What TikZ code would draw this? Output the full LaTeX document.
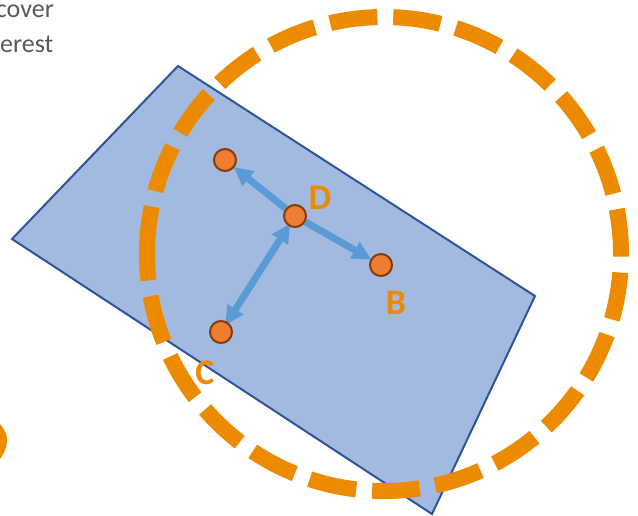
\documentclass[tikz,border=0pt]{standalone}
\usepackage{fontspec}
\setmainfont{Carlito}[BoldFont={Carlito Bold}]
\usetikzlibrary{arrows.meta}
\definecolor{dashorange}{RGB}{237,139,0}
\definecolor{dotfill}{RGB}{237,125,49}
\definecolor{dotline}{RGB}{132,60,12}
\definecolor{planefill}{RGB}{162,185,224}
\definecolor{planeline}{RGB}{47,85,151}
\definecolor{arrowblue}{RGB}{91,155,213}
\definecolor{textgray}{RGB}{89,89,89}
\pgfdeclarelayer{back}
\pgfdeclarelayer{mid}
\pgfsetlayers{back,mid,main}
\tikzset{
  pt/.style={circle,fill=dotfill,draw=dotline,line width=2pt,minimum size=22pt,inner sep=0pt},
  lbl/.style={text=dashorange,font=\fontsize{36}{36}\selectfont\bfseries,inner sep=0pt},
  vec/.style={draw=arrowblue,line width=7pt,-{Triangle[length=19pt,width=18pt]}},
  dvec/.style={draw=arrowblue,line width=7pt,{Triangle[length=19pt,width=18pt]}-{Triangle[length=19pt,width=18pt]}},
  sidetext/.style={text=textgray,font=\fontsize{26}{26}\selectfont,inner sep=0pt}
}
\begin{document}
\begin{tikzpicture}[x=1pt,y=-1pt]
\useasboundingbox (0,0) rectangle (638,515);
\clip (0,0) rectangle (638,515);
% side text
\node[sidetext,anchor=base east] (t1) at (54,17) {cover};
\node[sidetext,anchor=base west] (t2) at (0,52) {erest};
\begin{pgfonlayer}{back}
% orange blob at left
\fill[dashorange] (0,424) .. controls (5,430) and (8,436) .. (7,442) .. controls (6,450) and (3,455) .. (0,459) -- cycle;
% plane
\filldraw[fill=planefill,draw=planeline,line width=2pt,line join=miter] (178,66) -- (535,296) -- (432,514) -- (12,239) -- cycle;
% dashed circle, starting at its left point and running over the top
\coordinate (O) at (384,254);
\draw[dashorange,line width=16pt,dash pattern=on 47.7pt off 15.9pt,dash phase=0pt] (O) ++(180:237) arc[start angle=180,end angle=540,radius=237];
\end{pgfonlayer}
% points
\node[pt] (A) at (225,160) {};
\node[pt] (D) at (295,216) {};
\node[pt] (B) at (381,265) {};
\node[pt] (C) at (221,332) {};
% arrows
\begin{pgfonlayer}{mid}
\draw[vec,shorten >=-1pt] (D) -- (A);
\draw[vec,shorten >=-1pt] (D) -- (B);
\draw[dvec,shorten >=-3pt,shorten <=-4pt] (C) -- (D);
\end{pgfonlayer}
% labels
\node[lbl] (lD) at (320,197.5) {D};
\node[lbl] (lB) at (396,303) {B};
\node[lbl] (lC) at (205,372.5) {C};
\end{tikzpicture}
\end{document}
